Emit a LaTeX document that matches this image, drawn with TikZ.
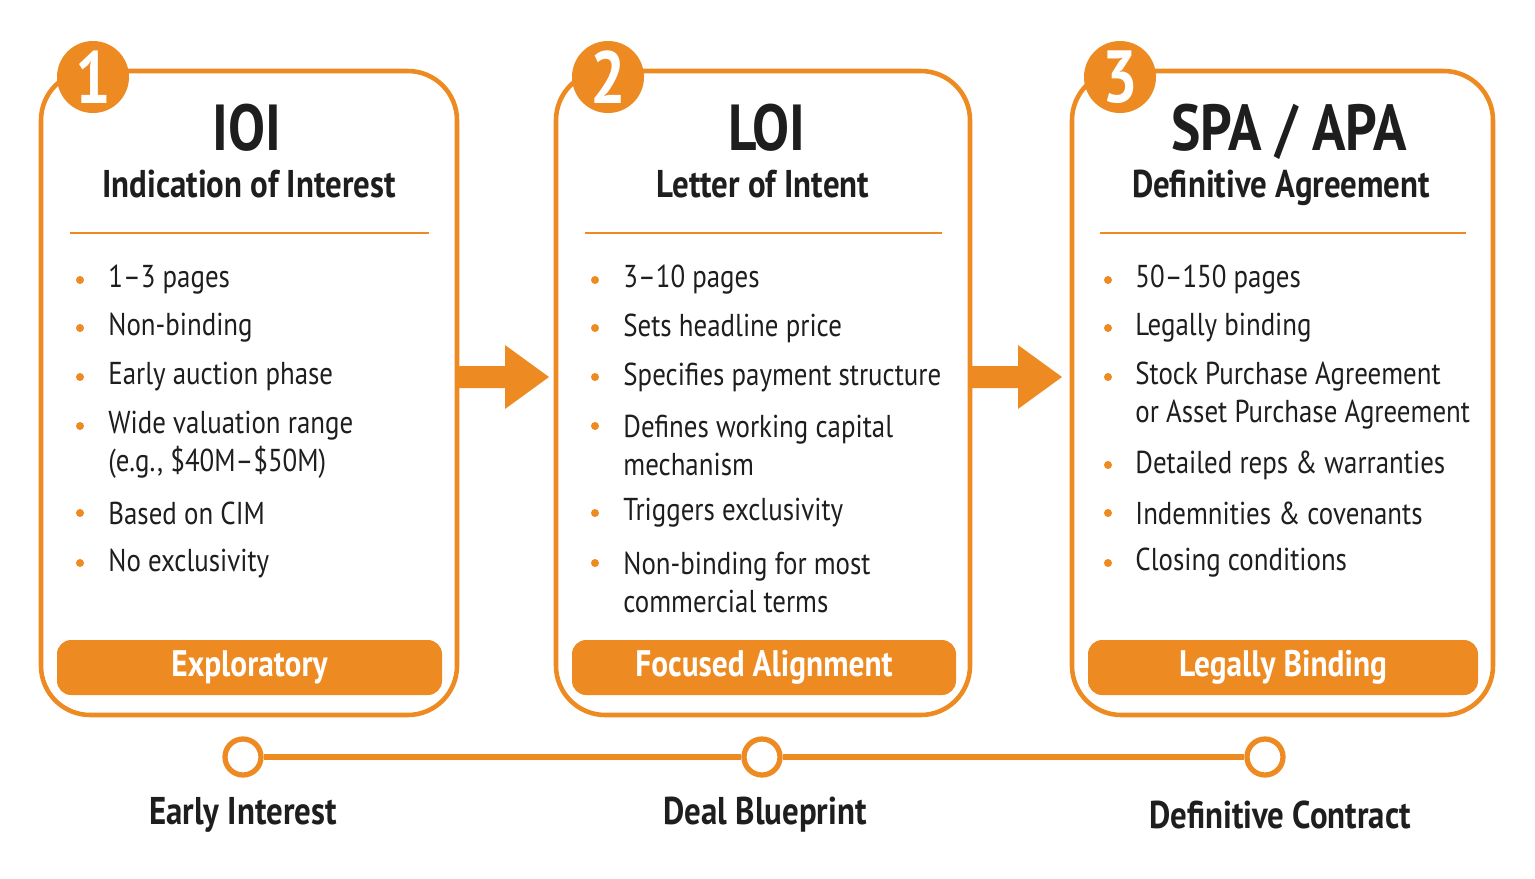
\documentclass[tikz,border=0pt]{standalone}
\usepackage{fontspec}
\setmainfont{PT Sans}[FakeStretch=0.85]
\usetikzlibrary{positioning}
\definecolor{deal}{HTML}{EE8A22}
\definecolor{ink}{HTML}{1E1E1E}
\tikzset{
  card/.style={draw=deal,line width=1.3pt,rounded corners=14pt,fill=white},
  badge/.style={circle,fill=deal,minimum size=72*0.01cm,inner sep=0pt,text=white,font=\bfseries\fontsize{21}{21}\selectfont},
  title/.style={anchor=base,text=ink,font=\bfseries\fontsize{18.5}{19}\selectfont},
  subtitle/.style={anchor=base,text=ink,font=\bfseries\fontsize{11}{12}\selectfont},
  item/.style={anchor=west,text=ink,align=left,font=\fontsize{9}{10.8}\selectfont},
  dot/.style={circle,fill=deal,inner sep=0pt,minimum size=8*0.01cm},
  bar/.style={fill=deal,draw=none,rounded corners=4pt,text=white,font=\bfseries\fontsize{10.5}{11}\selectfont},
  milestone/.style={circle,draw=deal,fill=white,line width=1.5pt,minimum size=36*0.01cm,inner sep=0pt},
  stage/.style={text=ink,font=\bfseries\fontsize{11}{12}\selectfont},
}
\begin{document}
\begin{tikzpicture}[x=0.01cm,y=-0.01cm]
\useasboundingbox[fill=white] (0,0) rectangle (1535,878);

% cards
\draw[card] (41,71) rectangle (457,715);
\draw[card] (556,71) rectangle (970,715);
\draw[card] (1072,71) rectangle (1493,715);

\node[badge] (b1) at (93,77) {1};
\node[badge] (b2) at (608,77) {2};
\node[badge] (b3) at (1120,77) {3};

\node[title] (t1) at (247,150) {IOI};
\node[title] (t2) at (767,150) {LOI};
\node[title] (t3) at (1289,150) {SPA / APA};
\node[subtitle] (s1) at (249,197) {Indication of Interest};
\node[subtitle] (s2) at (763,197) {Letter of Intent};
\node[subtitle] (s3) at (1281,197) {Definitive Agreement};

\draw[deal,line width=0.8pt] (70,233) -- (429,233);
\draw[deal,line width=0.8pt] (585,233) -- (942,233);
\draw[deal,line width=0.8pt] (1100,233) -- (1466,233);

% card 1
\foreach \y in {280,328,377,426,513,563} \node[dot] at (80,\y) {};
\node[item] (i11) at (96,280) {1–3 pages};
\node[item] (i12) at (96,328) {Non-binding};
\node[item] (i13) at (96,377) {Early auction phase};
\node[item] (i14) at (96,445) {Wide valuation range\\(e.g., \$40M–\$50M)};
\node[item] (i15) at (96,513) {Based on CIM};
\node[item] (i16) at (96,563) {No exclusivity};

% card 2
\foreach \y in {280,328,377,426,513,563} \node[dot] at (595,\y) {};
\node[item] (i21) at (611,280) {3–10 pages};
\node[item] (i22) at (611,328) {Sets headline price};
\node[item] (i23) at (611,377) {Specifies payment structure};
\node[item] (i24) at (611,445) {Defines working capital\\mechanism};
\node[item] (i25) at (611,513) {Triggers exclusivity};
\node[item] (i26) at (611,582) {Non-binding for most\\commercial terms};

% card 3
\foreach \y in {280,328,377,465,513,563} \node[dot] at (1108,\y) {};
\node[item] (i31) at (1123,280) {50–150 pages};
\node[item] (i32) at (1123,328) {Legally binding};
\node[item] (i33) at (1123,396) {Stock Purchase Agreement\\or Asset Purchase Agreement};
\node[item] (i34) at (1123,465) {Detailed reps \& warranties};
\node[item] (i35) at (1123,513) {Indemnities \& covenants};
\node[item] (i36) at (1123,563) {Closing conditions};

% bars
\path[bar] (57,640) rectangle node (e1) {Exploratory} (442,695);
\path[bar] (572,640) rectangle node (e2) {Focused Alignment} (956,695);
\path[bar] (1088,640) rectangle node (e3) {Legally Binding} (1478,695);

% arrows
\fill[deal] (458,366) -- (505,366) -- (505,345) -- (549,377) -- (505,409) -- (505,388) -- (458,388) -- cycle;
\fill[deal] (971,366) -- (1018,366) -- (1018,345) -- (1062,377) -- (1018,409) -- (1018,388) -- (971,388) -- cycle;

% timeline
\node[milestone] (m1) at (243,757) {};
\node[milestone] (m2) at (762,757) {};
\node[milestone] (m3) at (1265,757) {};
\draw[deal,line width=1.5pt] (m1) -- (m2);
\draw[deal,line width=1.5pt] (m2) -- (m3);
\node[stage] (l1) at (243,815) {Early Interest};
\node[stage] (l2) at (765,815) {Deal Blueprint};
\node[stage] (l3) at (1280,815) {Definitive Contract};
\end{tikzpicture}
\end{document}
